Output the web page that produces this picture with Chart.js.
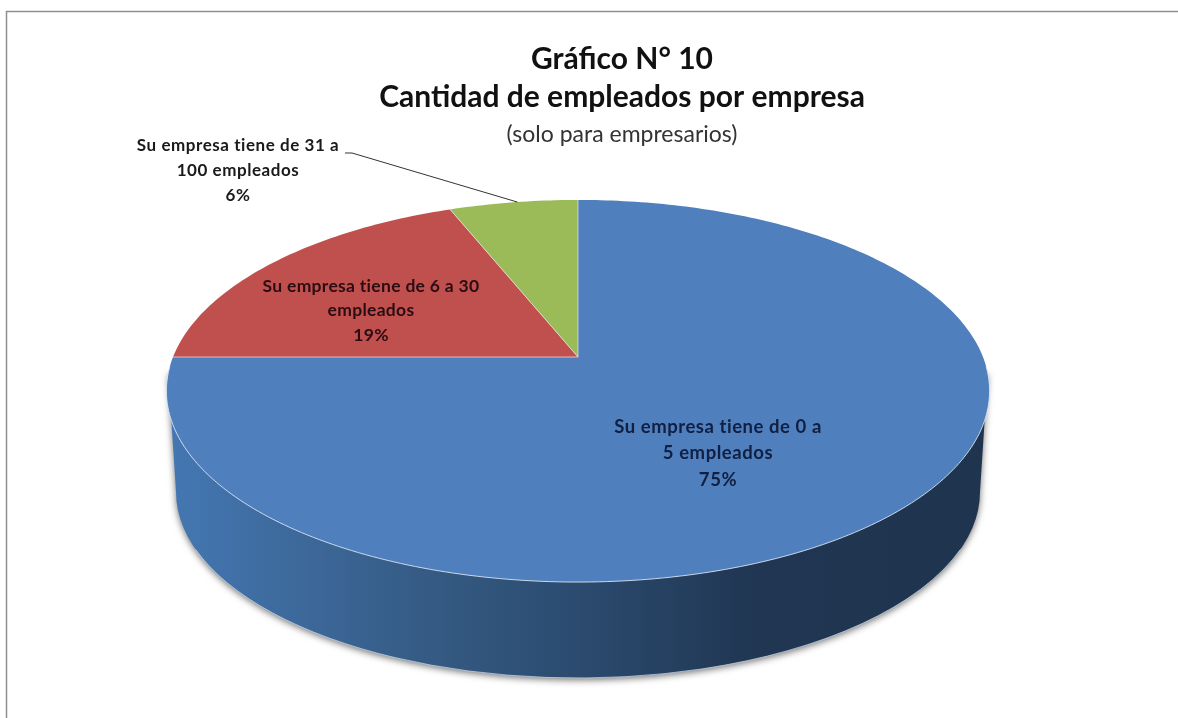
<!DOCTYPE html>
<html>
<head>
<meta charset="utf-8">
<title>Gráfico N° 10</title>
<script src="https://cdn.jsdelivr.net/npm/chart.js@4"></script>
<style>
  body { margin: 0; background: #fff; }
  #wrap { width: 1178px; height: 718px; }
</style>
</head>
<body>
<div id="wrap"><canvas id="pieChart" width="1178" height="718"></canvas></div>
<script>
// datos
const categories = ["Su empresa tiene de 0 a 5 empleados", "Su empresa tiene de 6 a 30 empleados", "Su empresa tiene de 31 a 100 empleados"];
const percents = [75, 19, 6];
const sliceColors = ["#4f7fbc", "#c0504d", "#9bbb59"];
const labelLines = [
    ["Su empresa tiene de 0 a", "5 empleados"],
    ["Su empresa tiene de 6 a 30", "empleados"],
    ["Su empresa tiene de 31 a", "100 empleados"]
];
const titleLines = ["Gráfico N° 10", "Cantidad de empleados por empresa"];
const subtitleText = "(solo para empresarios)";

// geometry of the tilted pie: the apex sits above the middle of the ellipse
const view = { cx: 578, cy: 357, rx: 405, ay: 185, k: 0.178 };
const bottom = { cx: 578, cy: 492, rx: 402, ry: 186 };
const labelPos = [
    { x: 718, y: 427, gap: 26.5, size: 18.5, spacing: "0.55px", color: "#101f42" },
    { x: 371, y: 286, gap: 24.5, size: 17.5, spacing: "0.3px", color: "#2b0c12" },
    { x: 238, y: 146, gap: 25, size: 17, spacing: "0.55px", color: "#1a1a1a" }
];

function project(angle) {
    const u = Math.cos(angle), v = Math.sin(angle);
    const w = 1 - view.k * v;
    return { x: view.cx + view.rx * u / w, y: view.cy + view.ay * v / w };
}

function traceRim(ctx, from, to, moveFirst) {
    const steps = Math.max(4, Math.ceil(Math.abs(to - from) * 60));
    for (let i = 0; i <= steps; i++) {
        const p = project(from + (to - from) * i / steps);
        if (i === 0 && moveFirst) ctx.moveTo(p.x, p.y);
        else ctx.lineTo(p.x, p.y);
    }
}

const pie3d = {
    id: "pie3d",
    beforeDatasetsDraw(chart) {
        const ctx = chart.ctx;
        const arcs = chart.getDatasetMeta(0).data;
        const left = project(Math.PI - 0.085), right = project(0.085);

        // lateral del pastel
        const side = ctx.createLinearGradient(170, 0, 985, 0);
        side.addColorStop(0, "#4477b2");
        side.addColorStop(0.3, "#365c86");
        side.addColorStop(0.5, "#2b4b6f");
        side.addColorStop(0.72, "#203652");
        side.addColorStop(1, "#1f344e");
        ctx.save();
        ctx.beginPath();
        ctx.moveTo(left.x, left.y);
        ctx.lineTo(bottom.cx - bottom.rx, bottom.cy);
        ctx.ellipse(bottom.cx, bottom.cy, bottom.rx, bottom.ry, 0, Math.PI, 0, true);
        ctx.lineTo(right.x, right.y);
        ctx.closePath();
        ctx.shadowColor = "rgba(0,0,0,0.55)";
        ctx.shadowBlur = 7;
        ctx.shadowOffsetY = 2;
        ctx.fillStyle = side;
        ctx.fill();
        ctx.restore();

        ctx.save();
        ctx.beginPath();
        ctx.ellipse(bottom.cx, bottom.cy, bottom.rx, bottom.ry, 0, Math.PI * 0.9, Math.PI * 0.1, true);
        ctx.strokeStyle = "rgba(205,220,240,0.7)";
        ctx.lineWidth = 1;
        ctx.stroke();
        ctx.restore();

        // cara superior, con los angulos que calcula Chart.js
        arcs.forEach(function (arc, i) {
            ctx.beginPath();
            ctx.moveTo(view.cx, view.cy);
            traceRim(ctx, arc.startAngle, arc.endAngle, false);
            ctx.closePath();
            ctx.fillStyle = sliceColors[i];
            ctx.fill();
        });
        arcs.forEach(function (arc) {
            ctx.beginPath();
            ctx.moveTo(view.cx, view.cy);
            const p = project(arc.startAngle);
            ctx.lineTo(p.x, p.y);
            ctx.strokeStyle = "rgba(235,225,225,0.75)";
            ctx.lineWidth = 1;
            ctx.stroke();
        });

        ctx.beginPath();
        traceRim(ctx, 0.05, Math.PI - 0.05, true);
        ctx.strokeStyle = "rgba(225,235,248,0.85)";
        ctx.lineWidth = 1;
        ctx.stroke();
        return false;
    },
    afterDraw(chart) {
        const ctx = chart.ctx;
        // marco: solo arriba y a la izquierda
        ctx.save();
        ctx.beginPath();
        ctx.moveTo(6.5, 718);
        ctx.lineTo(6.5, 11.5);
        ctx.lineTo(1178, 11.5);
        ctx.strokeStyle = "#8f8f8f";
        ctx.lineWidth = 1.5;
        ctx.stroke();

        // etiquetas de datos
        ctx.textAlign = "center";
        ctx.textBaseline = "middle";
        labelLines.forEach(function (lines, i) {
            const pos = labelPos[i];
            const rows = lines.concat(percents[i] + "%");
            ctx.font = "bold " + pos.size + "px Lato";
            ctx.letterSpacing = pos.spacing;
            ctx.fillStyle = pos.color;
            rows.forEach(function (row, j) {
                ctx.fillText(row, pos.x, pos.y + j * pos.gap);
            });
        });
        ctx.letterSpacing = "0px";

        // linea guia de la etiqueta pequena
        const tip = project(chart.getDatasetMeta(0).data[2].startAngle + 0.2);
        ctx.beginPath();
        ctx.moveTo(345, 153);
        ctx.lineTo(352, 153);
        ctx.lineTo(tip.x, tip.y);
        ctx.strokeStyle = "#333";
        ctx.lineWidth = 1;
        ctx.stroke();
        ctx.restore();
    }
};

new Chart(document.getElementById("pieChart"), {
    type: "pie",
    data: {
        labels: categories,
        datasets: [{ data: percents, backgroundColor: sliceColors, borderWidth: 0 }]
    },
    options: {
        responsive: false,
        animation: false,
        layout: { padding: { left: 66, top: 40 } },
        plugins: {
            legend: { display: false },
            tooltip: { enabled: false },
            title: {
                display: true,
                text: titleLines,
                color: "#111",
                font: { family: "Lato", size: 30, weight: "bold", lineHeight: 1.27 },
                padding: { top: 0, bottom: 0 }
            },
            subtitle: {
                display: true,
                text: subtitleText,
                color: "#333",
                font: { family: "Lato", size: 23, weight: "normal" },
                padding: { top: 5, bottom: 0 }
            }
        }
    },
    plugins: [pie3d]
});
</script>
</body>
</html>
